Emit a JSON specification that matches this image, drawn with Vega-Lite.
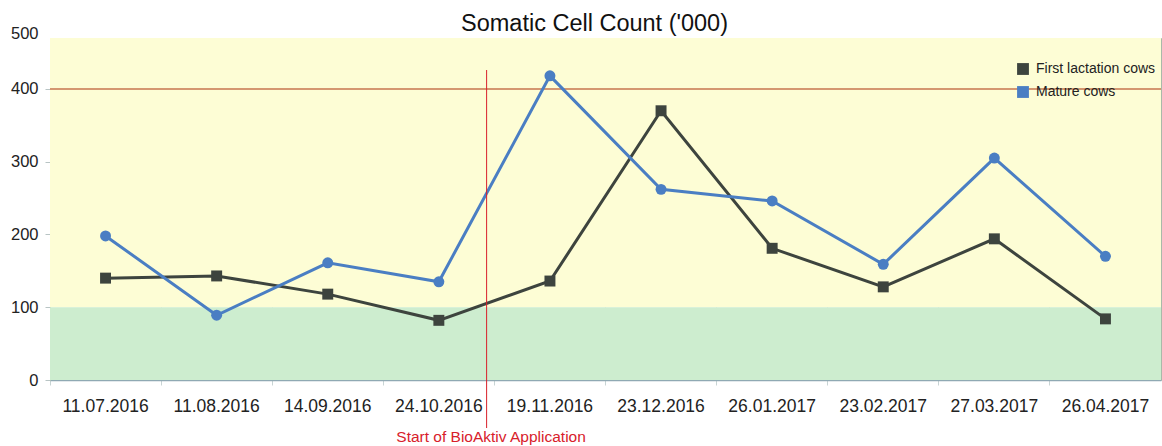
{
  "$schema": "https://vega.github.io/schema/vega-lite/v6.json",
  "autosize": "none",
  "width": 1111,
  "height": 342,
  "padding": {"left": 50, "top": 38, "right": 1, "bottom": 66},
  "background": "white",
  "config": {
    "font": "Liberation Sans",
    "view": {"stroke": "#a9b9a9", "strokeWidth": 1}
  },
  "title": {
    "text": "Somatic Cell Count ('000)",
    "fontSize": 23.5,
    "fontWeight": "normal",
    "color": "#111111",
    "font": "Liberation Sans",
    "anchor": "middle",
    "dx": -11,
    "offset": -10
  },
  "datasets": {
    "scc": [
      {"date": "11.07.2016", "group": "First lactation cows", "value": 140},
      {"date": "11.08.2016", "group": "First lactation cows", "value": 143},
      {"date": "14.09.2016", "group": "First lactation cows", "value": 118},
      {"date": "24.10.2016", "group": "First lactation cows", "value": 82},
      {"date": "19.11.2016", "group": "First lactation cows", "value": 136},
      {"date": "23.12.2016", "group": "First lactation cows", "value": 370},
      {"date": "26.01.2017", "group": "First lactation cows", "value": 181},
      {"date": "23.02.2017", "group": "First lactation cows", "value": 128},
      {"date": "27.03.2017", "group": "First lactation cows", "value": 194},
      {"date": "26.04.2017", "group": "First lactation cows", "value": 84},
      {"date": "11.07.2016", "group": "Mature cows", "value": 198},
      {"date": "11.08.2016", "group": "Mature cows", "value": 89},
      {"date": "14.09.2016", "group": "Mature cows", "value": 161},
      {"date": "24.10.2016", "group": "Mature cows", "value": 135},
      {"date": "19.11.2016", "group": "Mature cows", "value": 418},
      {"date": "23.12.2016", "group": "Mature cows", "value": 262},
      {"date": "26.01.2017", "group": "Mature cows", "value": 246},
      {"date": "23.02.2017", "group": "Mature cows", "value": 159},
      {"date": "27.03.2017", "group": "Mature cows", "value": 305},
      {"date": "26.04.2017", "group": "Mature cows", "value": 170}
    ],
    "one": [{"label": "Start of BioAktiv Application"}]
  },
  "layer": [
    {
      "data": {"name": "one"},
      "mark": {"type": "rect", "color": "#fdfdd5", "opacity": 1},
      "encoding": {
        "x": {"value": 0},
        "x2": {"value": "width"},
        "y": {
          "datum": 100,
          "type": "quantitative",
          "scale": {"domain": [0, 470], "nice": false, "zero": true},
          "axis": {
            "title": null,
            "values": [0, 100, 200, 300, 400, 470],
            "labelExpr": "datum.value == 470 ? '500' : datum.label",
            "labelFontSize": 16.5,
            "labelColor": "#222222",
            "labelPadding": 7,
            "labelOffset": {"condition": {"test": "datum.value == 470", "value": -5}, "value": 0},
            "tickSize": 5,
            "tickColor": "#b8c4c4",
            "tickOpacity": {"condition": {"test": "datum.value == 470", "value": 0}, "value": 1},
            "domainColor": "#a9b9a9",
            "grid": false
          }
        },
        "y2": {"datum": 470}
      }
    },
    {
      "data": {"name": "one"},
      "mark": {"type": "rect", "color": "#cdedcf", "opacity": 1},
      "encoding": {
        "x": {"value": 0},
        "x2": {"value": "width"},
        "y": {"datum": 0, "type": "quantitative"},
        "y2": {"datum": 100}
      }
    },
    {
      "data": {"name": "one"},
      "mark": {"type": "rule", "color": "#c6744e", "strokeWidth": 1.5},
      "encoding": {
        "y": {"datum": 400, "type": "quantitative"}
      }
    },
    {
      "data": {"name": "scc"},
      "mark": {"type": "line", "strokeWidth": 3},
      "encoding": {
        "x": {
          "field": "date",
          "type": "nominal",
          "sort": null,
          "scale": {"type": "band", "paddingInner": 0, "paddingOuter": 0},
          "axis": {
            "title": null,
            "labelAngle": 0,
            "labelFontSize": 17.5,
            "labelColor": "#222222",
            "labelPadding": 12,
            "bandPosition": 0,
            "tickSize": 5,
            "tickColor": "#c8d4d4",
            "domainColor": "#8fa9b3",
            "domainWidth": 1.5,
            "grid": true,
            "gridColor": "#c9d6c9",
            "gridOpacity": 0.5
          }
        },
        "y": {"field": "value", "type": "quantitative"},
        "color": {
          "field": "group",
          "type": "nominal",
          "scale": {"domain": ["First lactation cows", "Mature cows"], "range": ["#3d443e", "#4a7ec3"]},
          "legend": {
            "title": null,
            "orient": "none",
            "legendX": 966,
            "legendY": 24,
            "padding": 0,
            "symbolType": "square",
            "symbolSize": 140,
            "symbolStrokeWidth": 0,
            "symbolOpacity": 1,
            "labelFontSize": 14,
            "labelColor": "#222222",
            "labelOffset": 6,
            "rowPadding": 9
          }
        }
      }
    },
    {
      "data": {"name": "scc"},
      "transform": [{"filter": "datum.group == 'First lactation cows'"}],
      "mark": {"type": "point", "shape": "square", "filled": true, "opacity": 1, "size": 120},
      "encoding": {
        "x": {"field": "date", "type": "nominal", "sort": null},
        "y": {"field": "value", "type": "quantitative"},
        "color": {"field": "group", "type": "nominal"}
      }
    },
    {
      "data": {"name": "scc"},
      "transform": [{"filter": "datum.group == 'Mature cows'"}],
      "mark": {"type": "point", "shape": "circle", "filled": true, "opacity": 1, "size": 120},
      "encoding": {
        "x": {"field": "date", "type": "nominal", "sort": null},
        "y": {"field": "value", "type": "quantitative"},
        "color": {"field": "group", "type": "nominal"}
      }
    },
    {
      "data": {"name": "one"},
      "mark": {"type": "rule", "color": "#d8202a", "strokeWidth": 1},
      "encoding": {
        "x": {"datum": "24.10.2016", "type": "nominal", "bandPosition": 0.93},
        "y": {"datum": 426, "type": "quantitative"},
        "y2": {"datum": -66}
      }
    },
    {
      "data": {"name": "one"},
      "mark": {"type": "text", "color": "#d8202a", "fontSize": 15.5, "align": "center", "baseline": "middle"},
      "encoding": {
        "x": {"datum": "24.10.2016", "type": "nominal", "bandPosition": 0.97},
        "y": {"datum": -78, "type": "quantitative"},
        "text": {"field": "label"}
      }
    }
  ]
}
